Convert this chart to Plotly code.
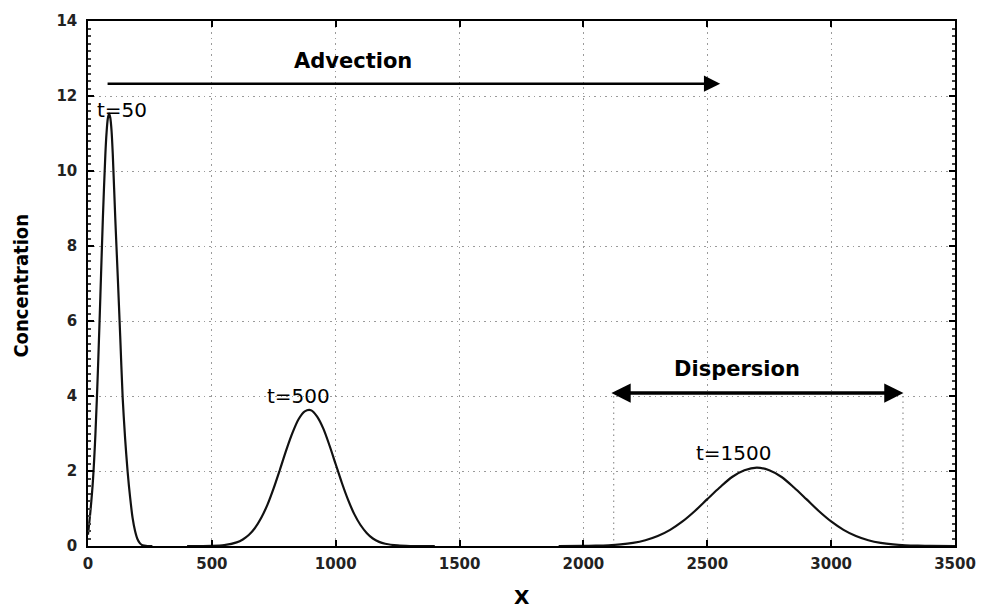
import plotly.graph_objects as go

# ---- data ----
x_t50 = [0, 10, 20, 30, 40, 50, 60, 70, 75, 80, 85, 90, 95, 100, 110, 120, 130, 140, 150, 160, 170, 180, 190, 200, 210, 220, 240, 260]
c_t50 = [0.3, 0.94, 1.75, 2.99, 4.68, 6.68, 8.73, 10.43, 11.03, 11.40, 11.53, 11.42, 11.08, 10.45, 8.75, 7.2, 5.6, 3.95, 2.85, 1.98, 1.3, 0.75, 0.4, 0.18, 0.07, 0.02, 0.0, 0.0]

x_t500 = [400, 500, 550, 600, 625, 650, 675, 700, 725, 750, 775, 800, 825, 850, 875, 900, 925, 950, 975,
          1000, 1025, 1050, 1075, 1100, 1125, 1150, 1175, 1200, 1250, 1300, 1400]
c_t500 = [0.0, 0.005, 0.025, 0.096, 0.175, 0.30, 0.49, 0.76, 1.11, 1.55, 2.04, 2.55, 3.01, 3.38, 3.59, 3.62, 3.45, 3.13, 2.68,
          2.18, 1.68, 1.23, 0.85, 0.56, 0.35, 0.20, 0.11, 0.06, 0.015, 0.0, 0.0]

x_t1500 = [1900, 2000, 2050, 2100, 2150, 2200, 2250, 2300, 2350, 2400, 2450, 2500, 2550, 2600, 2650, 2700,
           2750, 2800, 2850, 2900, 2950, 3000, 3050, 3100, 3150, 3200, 3250, 3300, 3350, 3400, 3500]
c_t1500 = [0.0, 0.004, 0.009, 0.02, 0.042, 0.083, 0.154, 0.266, 0.431, 0.655, 0.934, 1.25, 1.56, 1.84, 2.02, 2.09,
           2.02, 1.84, 1.56, 1.25, 0.934, 0.655, 0.431, 0.266, 0.154, 0.083, 0.042, 0.02, 0.009, 0.004, 0.0]

curve_labels = ["t=50", "t=500", "t=1500"]
label_x = [138, 851, 2609]
label_y = [11.62, 4.0, 2.49]

advection_x = [73, 2552]
advection_y = 12.33
dispersion_x = [2107, 3292]
dispersion_y = 4.08
dispersion_marks_x = [2122, 3290]

x_ticks = [0, 500, 1000, 1500, 2000, 2500, 3000, 3500]
y_ticks = [0, 2, 4, 6, 8, 10, 12, 14]

FONT = "DejaVu Sans"
GRID = "#9a9a9a"
DOT = "1.5px,4px"

fig = go.Figure()
for xs, ys in [(x_t50, c_t50), (x_t500, c_t500), (x_t1500, c_t1500)]:
    fig.add_trace(go.Scatter(x=xs, y=ys, mode="lines",
                             line=dict(color="#111", width=2.2, shape="spline", smoothing=0.8),
                             showlegend=False, hoverinfo="skip"))

# dotted vertical markers for dispersion extent
for xv in dispersion_marks_x:
    fig.add_shape(type="line", x0=xv, x1=xv, y0=0, y1=dispersion_y, xref="x", yref="y",
                  line=dict(color=GRID, width=1.3, dash=DOT), layer="below")

ann = []
for t, lx, ly in zip(curve_labels, label_x, label_y):
    ann.append(dict(x=lx, y=ly, xref="x", yref="y", text=t, showarrow=False,
                    font=dict(family=FONT, size=20, color="black")))

# advection arrow
ann.append(dict(x=advection_x[1], y=advection_y, ax=advection_x[0], ay=advection_y,
                xref="x", yref="y", axref="x", ayref="y", text="", showarrow=True,
                arrowhead=2, arrowsize=1.3, arrowwidth=2.5, arrowcolor="black"))
ann.append(dict(x=1068, y=12.93, xref="x", yref="y", text="Advection", showarrow=False,
                font=dict(family=FONT, size=21, color="black", weight="bold")))

# dispersion double arrow
ann.append(dict(x=dispersion_x[1], y=dispersion_y, ax=dispersion_x[0], ay=dispersion_y,
                xref="x", yref="y", axref="x", ayref="y", text="", showarrow=True,
                arrowhead=2, startarrowhead=2, arrowside="end+start", arrowsize=1.1,
                startarrowsize=1.1, arrowwidth=3.5, arrowcolor="black"))
ann.append(dict(x=2618, y=4.71, xref="x", yref="y", text="Dispersion", showarrow=False,
                font=dict(family=FONT, size=21, color="black", weight="bold")))

# axis titles
ann.append(dict(x=0.5, y=0, xref="paper", yref="paper", xanchor="center", yanchor="top",
                yshift=-37, text="X", showarrow=False,
                font=dict(family=FONT, size=20, color="black", weight="bold")))
ann.append(dict(x=0, y=0.496, xref="paper", yref="paper", xanchor="center", yanchor="middle",
                xshift=-67, text="Concentration", textangle=-90, showarrow=False,
                font=dict(family="DejaVu Sans Condensed, DejaVu Sans", size=20, color="black", weight="bold")))

fig.update_layout(
    width=988, height=608,
    margin=dict(l=88, r=28, t=12, b=62),
    paper_bgcolor="white", plot_bgcolor="white",
    annotations=ann,
    font=dict(family=FONT, color="black"),
)

fig.update_xaxes(range=[0, 3500], tickvals=x_ticks, showline=True, linecolor="black", linewidth=1.5,
                 mirror="ticks", ticks="inside", ticklen=6, tickcolor="black", tickwidth=1.5,
                 showgrid=True, gridcolor=GRID, griddash=DOT, gridwidth=1.3, zeroline=False,
                 tickfont=dict(family=FONT, size=15, color="#222", weight="bold"),
                 ticklabelstandoff=3)
fig.update_yaxes(range=[0, 14], tickvals=y_ticks, showline=True, linecolor="black", linewidth=1.5,
                 mirror="ticks", ticks="inside", ticklen=6, tickcolor="black", tickwidth=1.5,
                 showgrid=True, gridcolor=GRID, griddash=DOT, gridwidth=1.3, zeroline=False,
                 tickfont=dict(family=FONT, size=15, color="#222", weight="bold"),
                 ticklabelstandoff=6,
                 minor=dict(dtick=0.2, ticks="inside", ticklen=3, tickcolor="#444", showgrid=False))

fig.write_html("out.html")
